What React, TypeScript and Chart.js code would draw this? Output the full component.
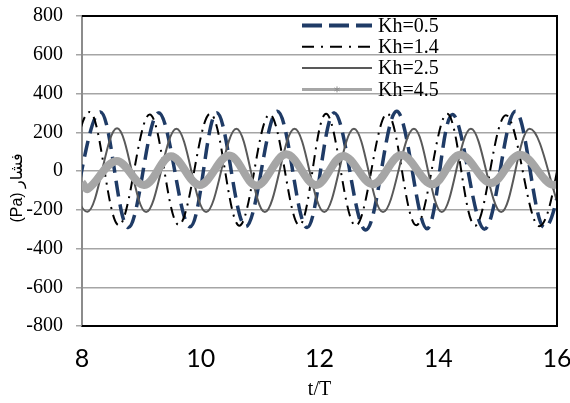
import React, { useEffect, useRef } from "react";
import { Chart, registerables } from "chart.js";

Chart.register(...registerables);

const seriesLabels = ["Kh=0.5", "Kh=1.4", "Kh=2.5", "Kh=4.5"];
const xTickValues = [8, 10, 12, 14, 16];
const yTickValues = [-800, -600, -400, -200, 0, 200, 400, 600, 800];
const xTitle = "t/T";
const yTitle = "(Pa) فشار";

// Each series is given by its successive extremes (t/T, pressure in Pa)
const tKh05 = [7.79, 8.31, 8.78, 9.29, 9.82, 10.27, 10.76, 11.29, 11.79, 12.25, 12.78, 13.3, 13.81, 14.24, 14.78, 15.3, 15.79, 16.3];
const pKh05 = [-290, 305, -292, 300, -288, 300, -287, 308, -292, 300, -305, 308, -298, 292, -300, 308, -292, 305];

const tKh14 = [7.63, 8.13, 8.62, 9.14, 9.63, 10.16, 10.65, 11.16, 11.66, 12.11, 12.61, 13.14, 13.63, 14.15, 14.62, 15.14, 15.7, 16.2];
const pKh14 = [-280, 305, -280, 292, -278, 296, -282, 292, -280, 296, -282, 296, -280, 295, -282, 288, -285, 295];

const tKh25 = [7.59, 8.09, 8.59, 9.08, 9.59, 10.09, 10.6, 11.08, 11.58, 12.08, 12.58, 13.07, 13.59, 14.06, 14.55, 15.06, 15.54, 16.06];
const pKh25 = [218, -210, 220, -212, 218, -212, 218, -212, 218, -212, 218, -212, 218, -212, 218, -212, 218, -212];

const tKh45 = [8.0, 8.1, 8.58, 9.05, 9.5, 9.98, 10.48, 10.94, 11.44, 11.94, 12.4, 12.9, 13.38, 13.9, 14.37, 14.89, 15.38, 15.95, 16.4];
const pKh45 = [-60, -92, 52, -72, 76, -72, 80, -75, 86, -72, 78, -68, 82, -68, 84, -62, 84, -72, 80];

const toPoints = (t: number[], p: number[]) => t.map((x, i) => ({ x, y: p[i] }));

const styles = [
  { color: "#1F3B66", width: 3.5, dash: [16, 8], legendDash: [20, 7], legendWidth: 4 },
  { color: "#000000", width: 2, dash: [11, 6, 2, 6], legendDash: [12, 7, 2, 7], legendWidth: 2 },
  { color: "#595959", width: 2, dash: [] as number[], legendDash: [] as number[], legendWidth: 2 },
  { color: "#A6A6A6", width: 8, dash: [] as number[], legendDash: [] as number[], legendWidth: 3 },
];

const framePlugin = {
  id: "frame",
  afterDraw(chart: any) {
    const { ctx, chartArea: a } = chart;
    ctx.save();
    ctx.strokeStyle = "#000";
    ctx.lineWidth = 2;
    ctx.beginPath();
    ctx.moveTo(a.left, a.top);
    ctx.lineTo(a.right, a.top);
    ctx.lineTo(a.right, a.bottom);
    ctx.lineTo(a.left, a.bottom);
    ctx.stroke();
    ctx.restore();
  },
};

const legendPlugin = {
  id: "insideLegend",
  afterDraw(chart: any) {
    const { ctx, chartArea: a } = chart;
    const x0 = a.right - 255;
    const x1 = a.right - 185;
    const tx = a.right - 179;
    ctx.save();
    chart.data.datasets.forEach((ds: any, i: number) => {
      const st = styles[i];
      const y = a.top + 9.5 + i * 21.3;
      ctx.beginPath();
      ctx.strokeStyle = st.color;
      ctx.lineWidth = st.legendWidth;
      ctx.setLineDash(st.legendDash);
      ctx.moveTo(x0, y);
      ctx.lineTo(x1, y);
      ctx.stroke();
      ctx.setLineDash([]);
      if (i === 3) {
        const cx = (x0 + x1) / 2;
        ctx.strokeStyle = "#8F8F8F";
        ctx.lineWidth = 1;
        ctx.beginPath();
        ctx.moveTo(cx, y - 3);
        ctx.lineTo(cx, y + 3);
        ctx.moveTo(cx - 2.6, y - 1.5);
        ctx.lineTo(cx + 2.6, y + 1.5);
        ctx.moveTo(cx - 2.6, y + 1.5);
        ctx.lineTo(cx + 2.6, y - 1.5);
        ctx.stroke();
      }
      ctx.fillStyle = "#000";
      ctx.font = "20px 'Liberation Serif', 'Times New Roman', serif";
      ctx.textAlign = "left";
      ctx.textBaseline = "middle";
      ctx.fillText(ds.label, tx, y + 1);
    });
    ctx.restore();
  },
};

const yTitlePlugin = {
  id: "yTitle",
  afterDraw(chart: any) {
    const { ctx, chartArea: a } = chart;
    ctx.save();
    ctx.translate(18, (a.top + a.bottom) / 2 + 17);
    ctx.rotate(-Math.PI / 2);
    ctx.fillStyle = "#000";
    ctx.font = "16px 'Liberation Sans', 'DejaVu Sans', sans-serif";
    ctx.textAlign = "center";
    ctx.textBaseline = "middle";
    ctx.fillText(yTitle, 0, 0);
    ctx.restore();
  },
};

export default function App() {
  const ref = useRef<HTMLCanvasElement | null>(null);

  useEffect(() => {
    if (!ref.current) return;
    const allT = [tKh05, tKh14, tKh25, tKh45];
    const allP = [pKh05, pKh14, pKh25, pKh45];
    const chart = new Chart(ref.current, {
      type: "line",
      data: {
        datasets: seriesLabels.map((label, i) => ({
          label,
          data: toPoints(allT[i], allP[i]),
          borderColor: styles[i].color,
          backgroundColor: styles[i].color,
          borderWidth: styles[i].width,
          borderDash: styles[i].dash,
          pointRadius: 0,
          tension: 0.363,
          fill: false,
          order: 4 - i,
          borderJoinStyle: "round",
        })),
      },
      options: {
        responsive: false,
        animation: false,
        layout: { padding: { left: 0, top: 16, right: 13, bottom: 0 } },
        plugins: {
          legend: { display: false },
          tooltip: { enabled: false },
        },
        scales: {
          x: {
            type: "linear",
            min: xTickValues[0],
            max: xTickValues[xTickValues.length - 1],
            afterBuildTicks: (s: any) => {
              s.ticks = xTickValues.map((v) => ({ value: v }));
            },
            afterFit: (s: any) => {
              s.height = 77;
              s.paddingLeft = 0;
              s.paddingRight = 0;
            },
            ticks: {
              color: "#000",
              font: { family: "Lato", size: 25 },
              padding: 18,
              maxRotation: 0,
            },
            grid: { display: false, drawTicks: false },
            border: { display: true, color: "#000", width: 2 },
            title: {
              display: true,
              text: xTitle,
              color: "#000",
              font: { family: "'Liberation Serif'", size: 20 },
              padding: { top: 0, bottom: 1 },
            },
          },
          y: {
            type: "linear",
            min: yTickValues[0],
            max: yTickValues[yTickValues.length - 1],
            afterBuildTicks: (s: any) => {
              s.ticks = yTickValues.map((v) => ({ value: v }));
            },
            afterFit: (s: any) => {
              s.width = 82;
              s.paddingTop = 0;
              s.paddingBottom = 0;
            },
            ticks: {
              color: "#000",
              font: { family: "'Liberation Serif'", size: 20 },
              padding: 13,
            },
            grid: { color: "#A5A5A5", lineWidth: 1.5, tickLength: 6, drawTicks: true },
            border: { display: true, color: "#8C8C8C", width: 2 },
          },
        },
      },
      plugins: [framePlugin, legendPlugin, yTitlePlugin],
    } as any);
    return () => chart.destroy();
  }, []);

  return (
    <canvas
      ref={ref}
      width={570}
      height={403}
      style={{ position: "fixed", left: 0, top: 0, width: 570, height: 403, display: "block", background: "#fff" }}
    />
  );
}
